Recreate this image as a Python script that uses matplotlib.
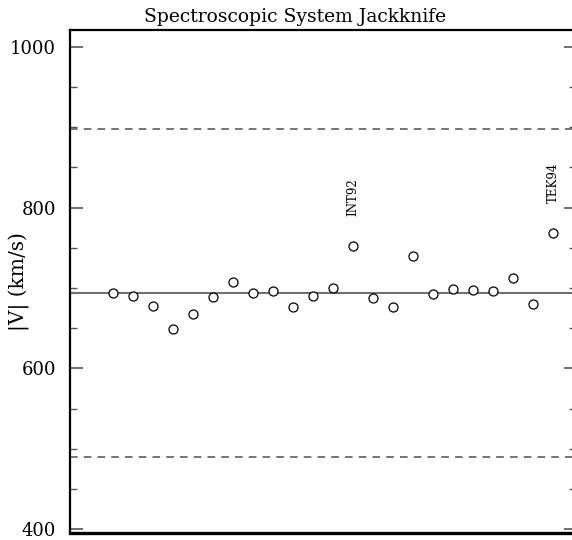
import matplotlib
matplotlib.use('Agg')
import matplotlib.pyplot as plt
import numpy as np
from matplotlib.ticker import MultipleLocator

# Jackknife velocities, one per dropped spectroscopic system
system_index = np.arange(1, 24)
velocity = [694, 690, 678, 649, 668, 689, 708, 694, 696, 676, 690, 700,
            752, 688, 677, 740, 693, 699, 698, 696, 713, 680, 768]
mean_v = 693.7
upper_v = 897.6
lower_v = 489.7

# labelled outliers: (index, text)
labels = [(13, 'INT92'), (23, 'TEK94')]

plt.rcParams['font.family'] = ['DejaVu Serif']

fig = plt.figure(figsize=(5.72, 5.40), dpi=100)
ax = fig.add_axes([70 / 572, 6.7 / 540, 506 / 572, 503.3 / 540])

ax.axhline(mean_v, color='#707070', lw=1.5, zorder=1)
ax.axhline(upper_v, color='#505050', lw=1.1, ls=(0, (5, 4)), zorder=1)
ax.axhline(lower_v, color='#505050', lw=1.1, ls=(0, (5, 4)), zorder=1)

ax.plot(system_index, velocity, 'o', ms=6.5, mfc='white', mec='black',
        mew=0.9, zorder=3)

for idx, txt in labels:
    ax.text(idx, velocity[idx - 1] + 38, txt, rotation=90, ha='center',
            va='bottom', fontsize=8.5)

ax.set_xlim(-1.15, 24.15)
ax.set_ylim(395, 1021)
ax.set_xticks([])
ax.yaxis.set_major_locator(MultipleLocator(200))
ax.yaxis.set_minor_locator(MultipleLocator(50))
ax.tick_params(axis='y', which='major', direction='in', length=9, width=1.2,
               right=True, labelsize=13, pad=10, color='#555555')
ax.tick_params(axis='y', which='minor', direction='in', length=5, width=1.0,
               right=True, color='#555555')

for side in ['left', 'top', 'right']:
    ax.spines[side].set_linewidth(1.6)
ax.spines['bottom'].set_linewidth(2.4)

ax.set_ylabel('|V| (km/s)', fontsize=14.5)
ax.yaxis.set_label_coords(-0.079, 0.5)
fig.text(295 / 572, 1 - 22 / 540, 'Spectroscopic System Jackknife',
         fontsize=13.5, ha='center', va='baseline')

fig.savefig('out.png', dpi=100)
